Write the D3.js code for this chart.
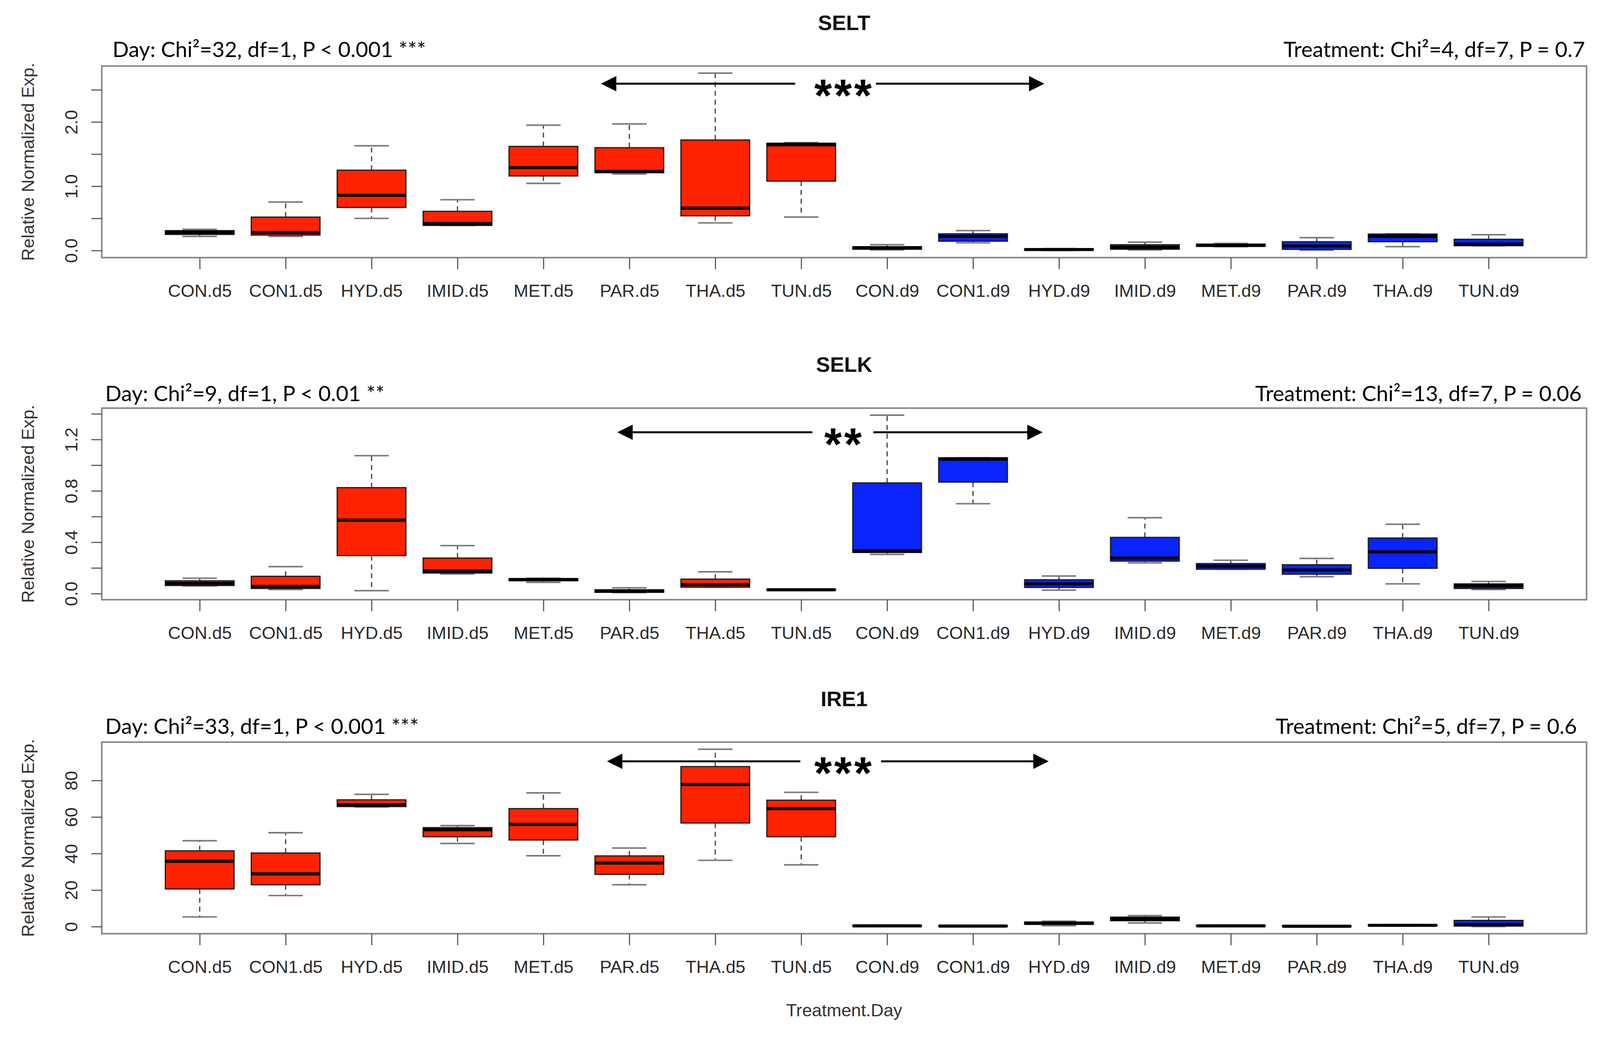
<!DOCTYPE html>
<html>
<head>
<meta charset="utf-8">
<title>SELT / SELK / IRE1 boxplots</title>
<script src="https://d3js.org/d3.v7.min.js"></script>
<style>
html, body { margin: 0; padding: 0; background: #fff; overflow: hidden; }
svg { display: block; width: 100vw; height: 100vh; }
.tick text { font-family: "Liberation Sans", Arial, sans-serif; font-size: 46px; fill: #2a2a2a; }
.stat { font-family: Lato, "Open Sans", sans-serif; font-size: 56px; fill: #000; }
.gene { font-family: "Liberation Sans", Arial, sans-serif; font-weight: bold; font-size: 55px; fill: #111; }
.axis-title { font-family: "Liberation Sans", Arial, sans-serif; font-size: 46px; fill: #333; }
.stars { font-family: "Liberation Sans", Arial, sans-serif; font-weight: bold; font-size: 118px; fill: #000; letter-spacing: 6px; }
</style>
</head>
<body>
<svg class="chart"></svg>
<script>
// ---- data: [lower whisker, Q1, median, Q3, upper whisker]
var categories = ["CON.d5","CON1.d5","HYD.d5","IMID.d5","MET.d5","PAR.d5","THA.d5","TUN.d5",
                  "CON.d9","CON1.d9","HYD.d9","IMID.d9","MET.d9","PAR.d9","THA.d9","TUN.d9"];

var selt = [
  [0.22,0.25,0.28,0.31,0.33], [0.22,0.24,0.28,0.52,0.755], [0.50,0.67,0.86,1.25,1.63],
  [0.39,0.39,0.42,0.61,0.79], [1.045,1.16,1.29,1.62,1.95], [1.19,1.21,1.23,1.60,1.97],
  [0.43,0.54,0.66,1.72,2.76], [0.52,1.08,1.645,1.67,1.68],
  [0.01,0.02,0.04,0.06,0.09], [0.12,0.145,0.22,0.26,0.31], [0.0,0.005,0.015,0.025,0.03],
  [0.01,0.02,0.05,0.09,0.13], [0.06,0.065,0.08,0.10,0.11], [0.005,0.018,0.07,0.137,0.20],
  [0.06,0.137,0.22,0.256,0.26], [0.073,0.075,0.10,0.175,0.245]
];
var selk = [
  [0.06,0.063,0.08,0.10,0.12], [0.032,0.04,0.056,0.135,0.21], [0.023,0.296,0.572,0.825,1.074],
  [0.153,0.16,0.176,0.277,0.374], [0.088,0.10,0.11,0.115,0.12], [0.008,0.01,0.02,0.03,0.045],
  [0.05,0.05,0.07,0.113,0.17], [0.025,0.028,0.03,0.033,0.035],
  [0.305,0.32,0.333,0.862,1.389], [0.70,0.868,1.047,1.058,1.058], [0.027,0.048,0.076,0.108,0.137],
  [0.24,0.253,0.277,0.438,0.591], [0.19,0.19,0.213,0.234,0.26], [0.132,0.151,0.184,0.225,0.274],
  [0.076,0.197,0.325,0.433,0.54], [0.032,0.04,0.06,0.076,0.095]
];
var ire1 = [
  [5.3,20.6,35.8,41.5,47], [17,22.9,28.9,40.3,51.4], [65.5,65.7,66.7,69.4,72.4],
  [45.5,49.2,53.0,54.2,55.3], [38.8,47.4,56.0,64.6,73.2], [22.9,28.6,34.8,38.7,43.0],
  [36.3,56.7,77.8,87.6,97.1], [33.8,49.2,64.6,69.2,73.5],
  [0.1,0.2,0.4,0.6,0.8], [0.1,0.2,0.3,0.45,0.6], [0.5,1.2,1.9,2.5,3.0],
  [2.0,3.2,4.2,5.2,6.0], [0.1,0.2,0.4,0.6,0.8], [0.05,0.1,0.2,0.3,0.5],
  [0.3,0.5,0.7,0.9,1.1], [0.0,0.3,1.0,3.4,5.3]
];

var genes = ["SELT","SELK","IRE1"];
var dayStats = ["Day: Chi\u00b2=32, df=1, P < 0.001 ***", "Day: Chi\u00b2=9, df=1, P < 0.01 **", "Day: Chi\u00b2=33, df=1, P < 0.001 ***"];
var treatStats = ["Treatment: Chi\u00b2=4, df=7, P = 0.7", "Treatment: Chi\u00b2=13, df=7, P = 0.06", "Treatment: Chi\u00b2=5, df=7, P = 0.6"];
var stars = ["***","**","***"];
var yTicks = [[0,0.5,1,1.5,2,2.5], [0,0.2,0.4,0.6,0.8,1,1.2,1.4], [0,20,40,60,80]];
var yTickLabels = [[0,1,2], [0,0.4,0.8,1.2], [0,20,40,60,80]];
var yFormats = [".1f", ".1f", "d"];

// ---- layout
var W = 4167, H = 2696;
var plotLeft = 265, plotRight = 4132, plotH = 499;
var panels = [
  {values: selt, top: 172,  dayX: 293, treatX: 4128, statDy: -23, arrowDy: 46, arrow: [5.67, 7.93, 8.87, 10.83]},
  {values: selk, top: 1063, dayX: 274, treatX: 4119, statDy: -18, arrowDy: 63, arrow: [5.86, 8.13, 8.84, 10.81]},
  {values: ire1, top: 1933, dayX: 274, treatX: 4107, statDy: -21, arrowDy: 50, arrow: [5.74, 7.99, 8.93, 10.88]}
];

var svg = d3.select(".chart")
  .attr("viewBox", "0 0 " + W + " " + H)
  .attr("preserveAspectRatio", "xMidYMin meet");

var n = categories.length;
var x = d3.scaleLinear()
  .domain([0.5 - 0.04 * n, n + 0.5 + 0.04 * n])
  .range([plotLeft, plotRight]);
var boxW = (x(1) - x(0)) * 0.8;
var capW = boxW * 0.5;

function dayColor(i) {
  return /d5$/.test(categories[i]) ? "#ff2200" : "#0a24ff";
}

panels.forEach(function(p, pi) {
  var lo = d3.min(p.values, function(d) { return d[0]; });
  var hi = d3.max(p.values, function(d) { return d[4]; });
  var r = hi - lo;
  var y = d3.scaleLinear().domain([lo - 0.04 * r, hi + 0.04 * r]).range([p.top + plotH, p.top]);

  var g = svg.append("g").attr("class", "panel");

  // boxes
  var box = g.selectAll("g.box").data(p.values).enter().append("g").attr("class", "box");

  box.append("line")  // upper whisker
    .attr("x1", function(d, i) { return x(i + 1); }).attr("x2", function(d, i) { return x(i + 1); })
    .attr("y1", function(d) { return y(d[3]); }).attr("y2", function(d) { return y(d[4]); })
    .attr("stroke", "#3a3a3a").attr("stroke-width", 3).attr("stroke-dasharray", "13 10");
  box.append("line")  // lower whisker
    .attr("x1", function(d, i) { return x(i + 1); }).attr("x2", function(d, i) { return x(i + 1); })
    .attr("y1", function(d) { return y(d[1]); }).attr("y2", function(d) { return y(d[0]); })
    .attr("stroke", "#3a3a3a").attr("stroke-width", 3).attr("stroke-dasharray", "13 10");
  [0, 4].forEach(function(k) {
    box.append("line")
      .attr("x1", function(d, i) { return x(i + 1) - capW / 2; })
      .attr("x2", function(d, i) { return x(i + 1) + capW / 2; })
      .attr("y1", function(d) { return y(d[k]); }).attr("y2", function(d) { return y(d[k]); })
      .attr("stroke", "#7a7a7a").attr("stroke-width", 4);
  });
  box.append("rect")
    .attr("x", function(d, i) { return x(i + 1) - boxW / 2; })
    .attr("width", boxW)
    .attr("y", function(d) { return y(d[3]); })
    .attr("height", function(d) { return Math.max(1, y(d[1]) - y(d[3])); })
    .attr("fill", function(d, i) { return dayColor(i); })
    .attr("stroke", "#1a1a1a").attr("stroke-width", 3);
  box.append("line")  // median
    .attr("x1", function(d, i) { return x(i + 1) - boxW / 2; })
    .attr("x2", function(d, i) { return x(i + 1) + boxW / 2; })
    .attr("y1", function(d) { return y(d[2]); }).attr("y2", function(d) { return y(d[2]); })
    .attr("stroke", "#000").attr("stroke-width", 8);

  // frame
  g.append("rect")
    .attr("x", plotLeft).attr("y", p.top)
    .attr("width", plotRight - plotLeft).attr("height", plotH)
    .attr("fill", "none").attr("stroke", "#858585").attr("stroke-width", 4);

  // x axis
  var xAxis = g.append("g")
    .attr("transform", "translate(0," + (p.top + plotH) + ")")
    .call(d3.axisBottom(x).tickValues(d3.range(1, n + 1))
      .tickFormat(function(v) { return categories[v - 1]; })
      .tickSize(30).tickPadding(40));
  xAxis.select(".domain").remove();
  xAxis.selectAll(".tick line").attr("stroke", "#5a5a5a").attr("stroke-width", 3);
  xAxis.selectAll(".tick text").attr("dy", "0.71em");

  // y axis
  var fmt = d3.format(yFormats[pi]);
  var yAxis = g.append("g")
    .attr("transform", "translate(" + plotLeft + ",0)")
    .call(d3.axisLeft(y).tickValues(yTicks[pi])
      .tickFormat(function(v) { return yTickLabels[pi].indexOf(v) >= 0 ? fmt(v) : ""; })
      .tickSize(27));
  yAxis.select(".domain").remove();
  yAxis.selectAll(".tick line").attr("stroke", "#5a5a5a").attr("stroke-width", 3);
  yAxis.selectAll(".tick text")
    .attr("transform", "rotate(-90)")
    .attr("x", 0).attr("y", -64).attr("dy", 0)
    .attr("text-anchor", "middle");

  g.append("text").attr("class", "axis-title")
    .attr("transform", "translate(88," + (p.top + plotH / 2) + ") rotate(-90)")
    .attr("text-anchor", "middle")
    .text("Relative Normalized Exp.");

  // titles and statistics
  g.append("text").attr("class", "gene")
    .attr("x", (plotLeft + plotRight) / 2).attr("y", p.top - 94)
    .attr("text-anchor", "middle").text(genes[pi]);
  g.append("text").attr("class", "stat")
    .attr("x", p.dayX).attr("y", p.top + p.statDy).text(dayStats[pi]);
  g.append("text").attr("class", "stat")
    .attr("x", p.treatX).attr("y", p.top + p.statDy)
    .attr("text-anchor", "end").text(treatStats[pi]);

  // day-effect arrow
  var ay = p.top + p.arrowDy;
  var a = p.arrow.map(x);
  g.append("line").attr("x1", a[0] + 30).attr("x2", a[1]).attr("y1", ay).attr("y2", ay)
    .attr("stroke", "#000").attr("stroke-width", 5);
  g.append("line").attr("x1", a[2]).attr("x2", a[3] - 30).attr("y1", ay).attr("y2", ay)
    .attr("stroke", "#000").attr("stroke-width", 5);
  g.append("path")
    .attr("d", "M" + a[0] + "," + ay + "L" + (a[0] + 40) + "," + (ay - 20) + "L" + (a[0] + 40) + "," + (ay + 20) + "Z")
    .attr("fill", "#000");
  g.append("path")
    .attr("d", "M" + a[3] + "," + ay + "L" + (a[3] - 40) + "," + (ay - 20) + "L" + (a[3] - 40) + "," + (ay + 20) + "Z")
    .attr("fill", "#000");
  g.append("text").attr("class", "stars")
    .attr("x", x(8.5)).attr("y", ay + 72)
    .attr("text-anchor", "middle").text(stars[pi]);
});

svg.append("text").attr("class", "axis-title")
  .attr("x", (plotLeft + plotRight) / 2).attr("y", 2647)
  .attr("text-anchor", "middle").text("Treatment.Day");
</script>
</body>
</html>
